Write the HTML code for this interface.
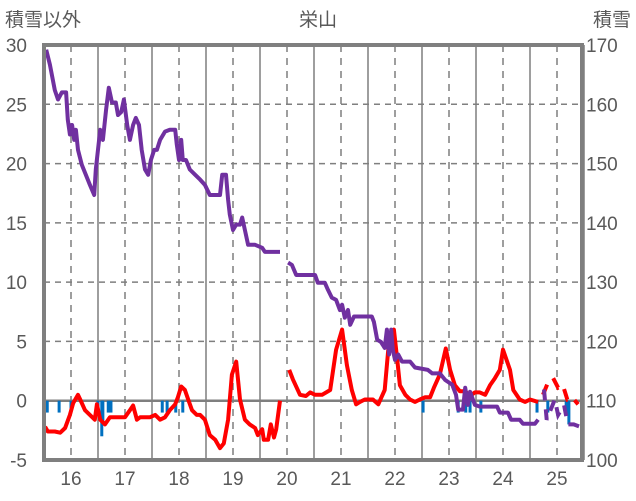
<!DOCTYPE html>
<html><head><meta charset="utf-8">
<style>
body{margin:0;background:#fff;}
svg{display:block;font-family:"Liberation Sans","Noto Sans CJK JP",sans-serif;}
</style></head>
<body>
<svg id="chart" width="636" height="501" viewBox="0 0 636 501">
<text x="5" y="26" font-size="19" fill="#595959">積雪以外</text>
<text x="318" y="26" font-size="19" fill="#595959" text-anchor="middle">栄山</text>
<text x="631" y="26" font-size="19" fill="#595959" text-anchor="end">積雪</text>
<g id="grid"></g>
<g id="bars"></g>
<g id="lines"></g>
<g id="axes"></g>
</svg>
<script>
const xTicks=[16,17,18,19,20,21,22,23,24,25];
const leftTicks=[-5,0,5,10,15,20,25,30];
const rightTicks=[100,110,120,130,140,150,160,170];
const snowT=[15.54,15.61,15.70,15.76,15.83,15.91,15.94,15.98,16.02,16.06,16.09,16.13,16.20,16.35,16.43,16.46,16.54,16.59,16.65,16.70,16.76,16.83,16.87,16.93,16.98,17.04,17.09,17.15,17.20,17.26,17.31,17.37,17.43,17.48,17.54,17.59,17.65,17.74,17.83,17.93,17.96,18.00,18.04,18.07,18.13,18.20,18.30,18.39,18.48,18.57,18.76,18.80,18.87,18.91,18.94,19.00,19.06,19.13,19.17,19.22,19.28,19.41,19.54,19.59,19.65,19.87,null,20.02,20.09,20.17,20.52,20.57,20.70,20.76,20.83,20.91,20.98,21.02,21.07,21.13,21.17,21.24,21.35,21.57,21.61,21.67,21.74,21.81,21.85,21.89,21.93,21.96,22.00,22.06,22.13,22.28,22.37,22.61,22.69,22.83,22.93,23.06,23.13,23.17,23.26,23.30,23.35,23.39,23.48,23.57,23.89,23.94,24.09,24.15,24.31,24.37,24.59,24.65];
const snowV=[169.2,166.7,162.4,160.8,162.0,162.0,157.4,154.9,156.5,154.0,155.7,152.3,149.8,146.4,144.7,149.0,155.7,154.0,159.1,162.8,160.3,160.3,158.2,158.7,160.8,156.5,154.0,156.5,157.7,156.5,152.3,149.0,148.1,150.6,152.3,152.3,154.0,155.4,155.7,155.7,153.2,150.6,154.0,150.6,150.6,149.0,148.1,147.3,146.4,144.7,144.7,148.1,148.1,143.9,141.4,138.8,139.7,139.7,140.9,138.8,136.3,136.3,135.8,135.1,135.1,135.1,null,133.3,132.9,131.2,131.2,129.9,129.9,128.7,127.4,127.0,125.3,126.2,124.0,125.3,122.8,124.2,124.2,124.2,123.3,120.3,119.9,118.9,122.0,117.8,122.0,118.6,116.9,117.8,116.6,116.6,115.6,115.2,114.6,114.6,113.5,112.7,111.0,108.5,108.5,112.2,109.3,111.5,109.3,109.0,109.0,108.0,108.0,106.8,106.8,106.1,106.1,106.8];
const snowDashT=[24.76,24.81,24.96,25.02,25.13,25.20,25.31,25.43];
const snowDashV=[111.9,106.8,110.2,107.6,109.3,106.0,106.0,105.6];
const otherT=[15.52,15.57,15.70,15.80,15.89,15.98,16.04,16.13,16.17,16.26,16.35,16.44,16.48,16.54,16.63,16.72,16.91,17.00,17.09,17.15,17.22,17.28,17.46,17.56,17.65,17.74,17.83,17.93,17.98,18.04,18.11,18.17,18.24,18.33,18.39,18.48,18.57,18.67,18.76,18.83,18.91,18.98,19.06,19.13,19.22,19.31,19.41,19.46,19.54,19.57,19.65,19.70,19.76,19.80,19.87,null,20.04,20.11,20.24,20.35,20.43,20.52,20.65,20.80,20.91,21.02,21.11,21.20,21.28,21.35,21.44,21.59,21.69,21.81,21.89,21.98,22.04,22.09,22.19,22.28,22.37,22.46,22.56,22.65,22.72,22.83,22.94,23.02,23.11,23.20,23.30,23.39,23.48,23.57,23.67,23.76,23.85,23.94,24.00,24.13,24.19,24.31,24.41,24.50,24.65];
const otherV=[-2.2,-2.6,-2.6,-2.7,-2.3,-1.2,-0.2,0.5,0.1,-0.8,-1.2,-1.6,-0.3,-1.6,-2.0,-1.4,-1.4,-1.4,-0.8,-0.4,-1.6,-1.4,-1.4,-1.2,-1.6,-1.4,-0.8,-0.3,0.3,1.2,0.9,0.1,-0.8,-1.2,-1.2,-1.6,-2.9,-3.3,-4.0,-3.6,-1.6,2.2,3.3,0.1,-1.6,-2.0,-2.3,-2.9,-2.4,-3.3,-3.3,-2.0,-3.1,-2.4,0,null,2.6,1.8,0.5,0.4,0.7,0.5,0.5,0.9,4.3,6.0,3.0,0.9,-0.3,-0.1,0.1,0.1,-0.3,0.9,5.1,6.0,3.5,1.3,0.5,0.1,-0.1,0.1,0.3,0.3,1.1,2.2,4.4,2.6,1.3,0.8,0.8,0.4,0.7,0.7,0.5,1.3,1.9,2.6,4.3,2.6,0.9,0.1,-0.1,0.1,-0.1];
const otherDashT=[24.74,24.83,24.93,25.02,25.11,25.19,25.28,25.39];
const otherDashV=[0.5,1.5,1.9,1.1,1.3,0.1,0.3,-0.3];
const barT=[15.56,15.78,16.00,16.50,16.57,16.59,16.69,16.74,17.69,17.78,17.94,18.07,22.52,23.17,23.31,23.39,23.59,24.63,24.83,25.17,25.22];
const barV=[-1,-1,-1,-1,-3,-2,-1,-1,-1,-1,-1,-1,-1,-1,-1,-1,-1,-1,-1,-1,-2];

const L=44,R=582,T=45,B=460;
const xs=t=>71+(t-16)*54;
const yl=v=>B-(v+5)*(B-T)/35;
const yr=v=>B-(v-100)*(B-T)/70;
const NS='http://www.w3.org/2000/svg';
function mk(tag,attrs,parent){const e=document.createElementNS(NS,tag);for(const k in attrs)e.setAttribute(k,attrs[k]);parent.appendChild(e);return e;}
const grid=document.getElementById('grid'),bars=document.getElementById('bars'),lines=document.getElementById('lines'),axes=document.getElementById('axes');
const gc='#7f7f7f';
leftTicks.forEach(v=>{
  const y=yl(v);
  if(v!==-5&&v!==30&&v!==0){const g=mk('line',{x1:L,x2:R,y1:y,y2:y,stroke:gc,'stroke-width':1.5,'stroke-dasharray':'6,5'},grid);
  
  }
  const t=mk('text',{x:27,y:y+7,'font-size':19,fill:'#595959','text-anchor':'end'},axes);t.textContent=v;
  
  
});
rightTicks.forEach(v=>{
  const t=mk('text',{x:586,y:yr(v)+7,'font-size':19,fill:'#595959'},axes);t.textContent=v;
  
  
});
xTicks.forEach(yv=>{
  const x=xs(yv);
  const g=mk('line',{x1:x,x2:x,y1:T,y2:B,stroke:gc,'stroke-width':1.5,'stroke-dasharray':'7,6'},grid);
  
  
  const s=mk('line',{x1:x+27,x2:x+27,y1:T,y2:B,stroke:gc,'stroke-width':1.5},grid);
  
  
  const t=mk('text',{x:x,y:485,'font-size':19,fill:'#595959','text-anchor':'middle'},axes);t.textContent=yv;
  
  
});
const zl=mk('line',{x1:L,x2:R,y1:yl(0),y2:yl(0),stroke:gc,'stroke-width':2.5},grid);


barT.forEach((t,i)=>{
  const y0=yl(0),y1=yl(barV[i]);
  const r=mk('rect',{x:xs(t)-1.5,y:Math.min(y0,y1),width:3,height:Math.abs(y1-y0),fill:'#0070c0'},bars);
  
  
});
function path(ts,vs,f){let d='',pen=false;ts.forEach((t,i)=>{if(t===null||vs[i]===null){pen=false;return;}d+=(pen?'L':'M')+xs(t).toFixed(1)+','+f(vs[i]).toFixed(1);pen=true;});return d;}
const p1=mk('path',{d:path(otherT,otherV,yl),fill:'none',stroke:'#ff0000','stroke-width':4,'stroke-linejoin':'round'},lines);


const p2=mk('path',{d:path(otherDashT,otherDashV,yl),fill:'none',stroke:'#ff0000','stroke-width':4,'stroke-dasharray':'11,9'},lines);


const p3=mk('path',{d:path(snowT,snowV,yr),fill:'none',stroke:'#7030a0','stroke-width':4,'stroke-linejoin':'round'},lines);


const p4=mk('path',{d:path(snowDashT,snowDashV,yr),fill:'none',stroke:'#7030a0','stroke-width':4,'stroke-dasharray':'11,9'},lines);


const box=mk('rect',{x:L,y:T,width:R-L,height:B-T,fill:'none',stroke:gc,'stroke-width':4},axes);


</script>
</body></html>
